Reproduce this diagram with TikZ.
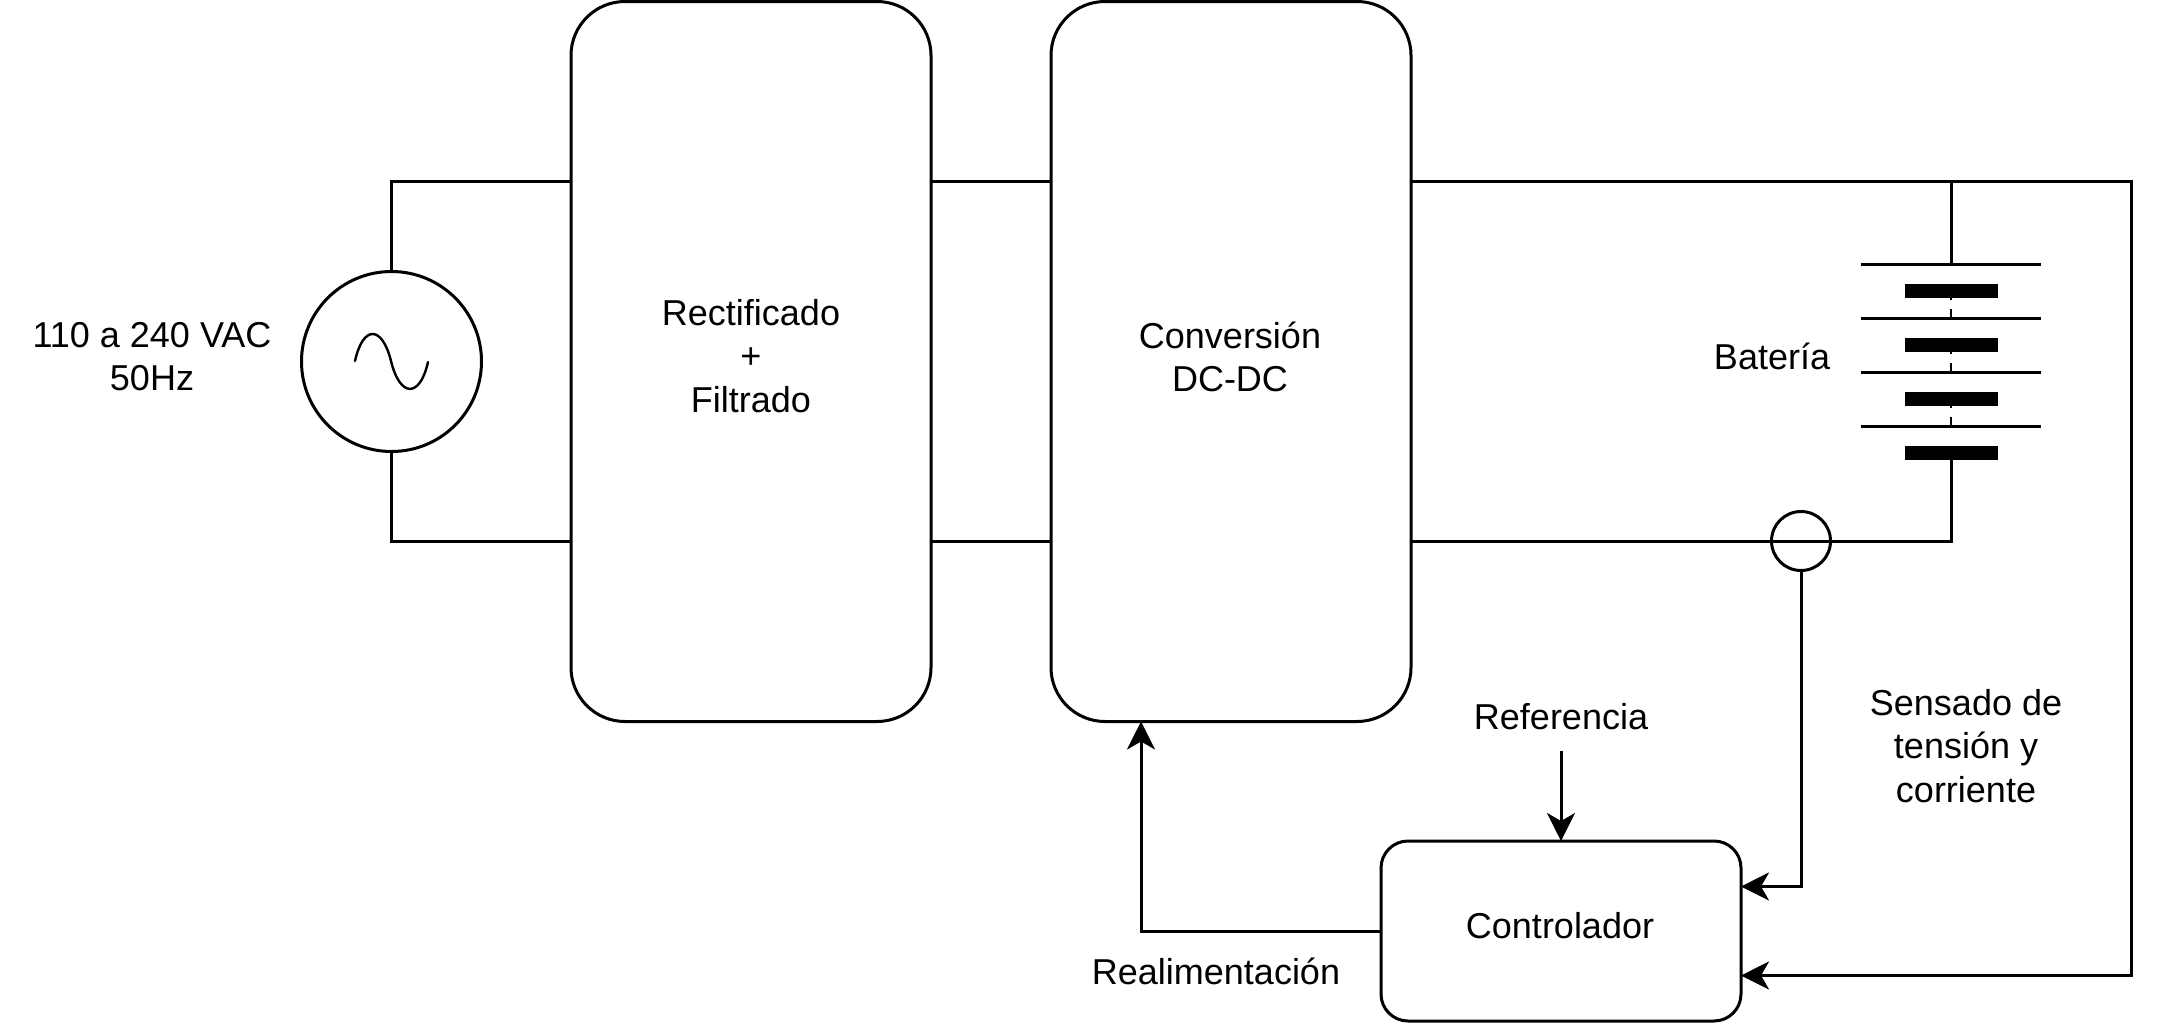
\documentclass[tikz,border=0pt]{standalone}
\usepackage{fontspec}
\setmainfont{Liberation Sans}
\usetikzlibrary{arrows.meta,positioning}

\begin{document}
\begin{tikzpicture}[x=0.5pt,y=-0.5pt,line width=1.5pt,>={Stealth[length=14pt,width=14pt,inset=4pt]},
    every node/.style={font=\fontsize{18}{21.6}\selectfont,align=center,inner sep=0pt,outer sep=0pt},
    bigblock/.style={draw,rounded corners=27pt,minimum width=180pt,minimum height=360pt},
    ctrlblock/.style={draw,rounded corners=13.5pt,minimum width=180pt,minimum height=90pt},
    longplate/.style={fill=black,minimum width=90pt,minimum height=1.5pt},
    shortplate/.style={fill=black,minimum width=46.5pt,minimum height=7pt},
    cellwire/.style={line width=1.3pt,dash pattern=on 1pt off 4.5pt on 4.5pt}]
   \useasboundingbox (0,0) rectangle (2157,1023);
   \coordinate (topw) at (0,181);
   \coordinate (botw) at (0,541);
   \node[bigblock] (rect) at (751,361.5) {};
   \node[bigblock] (dcdc) at (1231,361.5) {};
   \node[ctrlblock] (ctrl) at (1561,931) {};
   \node[draw,circle,minimum size=90pt] (ac) at (391.5,361.5) {};
   \node[draw,circle,minimum size=29.5pt] (sens) at (1801,541) {};
   \node (rectlabel) at (751,356) {Rectificado\\+\\Filtrado};
   \node (dclabel) at (1230,357) {Conversión\\DC-DC};
   \node (aclabel) at (152,357) {110 a 240 VAC\\50Hz};
   \node (batlabel) at (1772,356) {Batería};
   \node (reflabel) at (1561,717) {Referencia};
   \node (senslabel) at (1966,746) {Sensado de\\tensión y\\corriente};
   \node (ctrllabel) at (1560,926) {Controlador};
   \node (fblabel) at (1216,971) {Realimentación};
   \node[longplate] (l1) at (1951,264) {};
   \node[shortplate] (s1) at (1951,291) {};
   \node[longplate] (l2) at (1951,318) {};
   \node[shortplate] (s2) at (1951,345) {};
   \node[longplate] (l3) at (1951,372) {};
   \node[shortplate] (s3) at (1951,399) {};
   \node[longplate] (l4) at (1951,426) {};
   \node[shortplate] (s4) at (1951,453) {};
   \coordinate (refstart) at (1561,751);
   \coordinate (outcorner) at (2131,181);
   \coordinate (lowin) at (0,975.5);
   \coordinate (sensin) at (0,886.5);
   \coordinate (fbout) at (0,931);
   \coordinate (fbx) at (1141,0);
   \draw (ac.north) |- (rect.west |- topw);
   \draw (ac.south) |- (rect.west |- botw);
   \draw (rect.east |- topw) -- (dcdc.west |- topw);
   \draw (rect.east |- botw) -- (dcdc.west |- botw);
   \draw[->] (dcdc.east |- topw) -- (outcorner) |- (ctrl.east |- lowin);
   \draw (l1 |- topw) -- (l1.north);
   \draw (dcdc.east |- botw) -- (sens.west);
   \draw (sens.west) -- (sens.east) -- (s4 |- botw) -- (s4.south);
   \draw[->] (sens.south) |- (ctrl.east |- sensin);
   \draw[->] (refstart) -- (ctrl.north);
   \draw[->] (ctrl.west |- fbout) -| (fbx |- dcdc.south);
   \draw[cellwire] (s1.south) -- (l2.north);
   \draw[cellwire] (s2.south) -- (l3.north);
   \draw[cellwire] (s3.south) -- (l4.north);
   % sine of the source
   \draw[line width=1.2pt,line cap=round] (355,361) .. controls (363,325) and (382,325) .. (391,361) .. controls (400,398) and (420,398) .. (428,362);
\end{tikzpicture}
\end{document}
